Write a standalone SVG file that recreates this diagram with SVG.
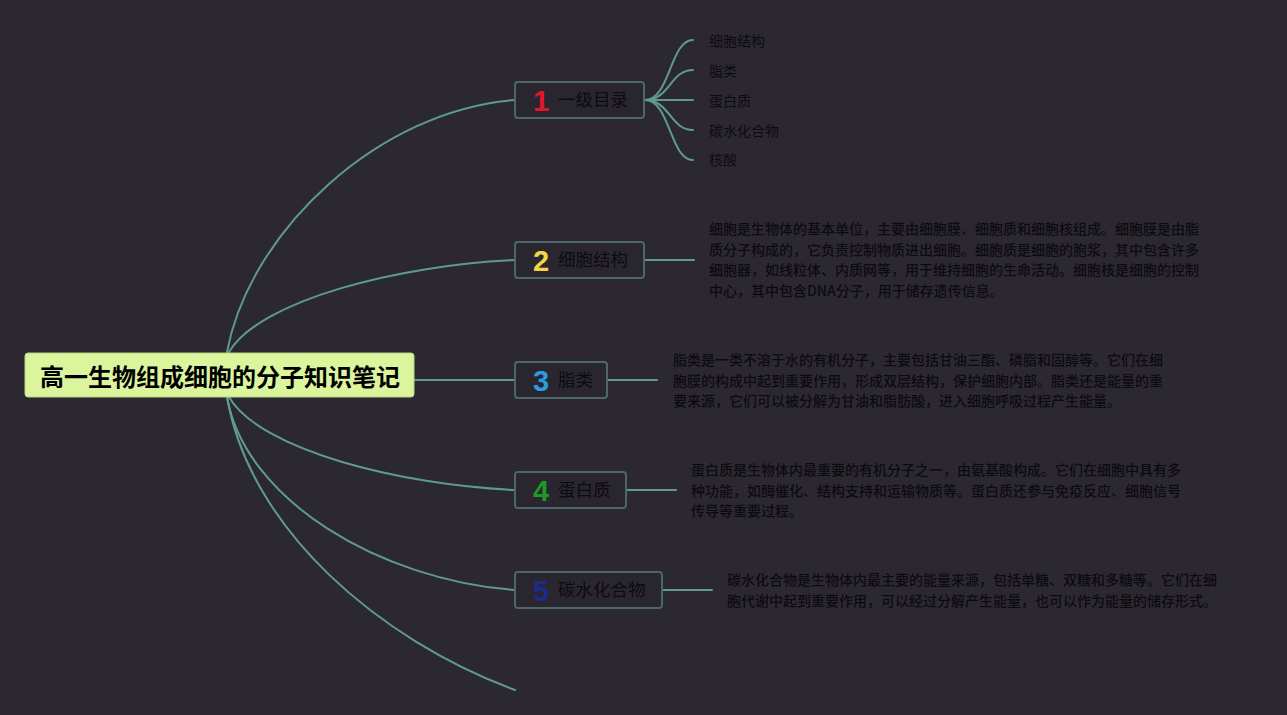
<svg xmlns="http://www.w3.org/2000/svg" width="1287" height="715" viewBox="0 0 1287 715">
<style>
.bg{fill:#2c2832}
.conn path,.conn line{fill:none;stroke:#5f9b8d;stroke-width:2;stroke-linecap:round}
.box{fill:#2a2630;stroke:#4b6769;stroke-width:2}
.num{font-family:"Liberation Sans",Arial,sans-serif;font-weight:bold;font-size:29px}
.lbl{font-family:"Noto Sans CJK SC",sans-serif;font-size:17.5px;fill:#0c0b0e}
.sub{font-family:"Noto Sans CJK SC",sans-serif;font-size:14px;fill:#0c0b0e}
.desc{font-family:"Noto Sans CJK SC",sans-serif;font-size:14px;fill:#0c0b0e;font-weight:500}
.root{fill:#dbf59d;stroke:#b7d37e;stroke-width:1}
.roott{font-family:"Noto Sans CJK SC",sans-serif;font-weight:bold;font-size:24px;fill:#000}
</style>
<rect class="bg" x="0" y="0" width="1287" height="715"/>
<g id="connectors" class="conn">
<path d="M227,352 C250,230 380,110 515,100"/>
<path d="M229,352 C260,300 400,265 515,260"/>
<line x1="414" y1="380" x2="515" y2="380"/>
<path d="M229,397 C260,450 400,485 515,490"/>
<path d="M227,397 C245,500 380,580 515,590"/>
<path d="M227,397 C250,530 380,640 515,690"/>
<path d="M645,100 C670,100 670,40 693,40"/>
<path d="M645,100 C670,100 670,70 693,70"/>
<path d="M645,100 L693,100"/>
<path d="M645,100 C670,100 670,130 693,130"/>
<path d="M645,100 C670,100 670,160 693,160"/>
<line x1="645" y1="260" x2="694" y2="260"/>
<line x1="608" y1="380" x2="657" y2="380"/>
<line x1="627" y1="490" x2="676" y2="490"/>
<line x1="663" y1="590" x2="712" y2="590"/>
</g>
<g id="root">
<rect class="root" x="25" y="353" width="389" height="44" rx="3"/>
<text class="roott" x="220" y="386" text-anchor="middle">高一生物组成细胞的分子知识笔记</text>
</g>
<g id="node1">
<rect class="box" x="515" y="82" width="129" height="36" rx="3"/>
<text class="num" x="533" y="111" fill="#e0162b">1</text>
<text class="lbl" x="558" y="106">一级目录</text>
</g>
<g id="node1-items">
<text class="sub" x="709" y="46">细胞结构</text>
<text class="sub" x="709" y="76">脂类</text>
<text class="sub" x="709" y="106">蛋白质</text>
<text class="sub" x="709" y="136">碳水化合物</text>
<text class="sub" x="709" y="165">核酸</text>
</g>
<g id="node2">
<rect class="box" x="515" y="242" width="129" height="36" rx="3"/>
<text class="num" x="533" y="271" fill="#f3d646">2</text>
<text class="lbl" x="558" y="266">细胞结构</text>
</g>
<g id="node2-desc">
<text class="desc" x="709" y="234">细胞是生物体的基本单位，主要由细胞膜、细胞质和细胞核组成。细胞膜是由脂</text>
<text class="desc" x="709" y="255">质分子构成的，它负责控制物质进出细胞。细胞质是细胞的胞浆，其中包含许多</text>
<text class="desc" x="709" y="275">细胞器，如线粒体、内质网等，用于维持细胞的生命活动。细胞核是细胞的控制</text>
<text class="desc" x="709" y="296">中心，其中包含DNA分子，用于储存遗传信息。</text>
</g>
<g id="node3">
<rect class="box" x="515" y="362" width="92" height="36" rx="3"/>
<text class="num" x="533" y="391" fill="#2a9de0">3</text>
<text class="lbl" x="558" y="386">脂类</text>
</g>
<g id="node3-desc">
<text class="desc" x="673" y="365">脂类是一类不溶于水的有机分子，主要包括甘油三酯、磷脂和固醇等。它们在细</text>
<text class="desc" x="673" y="386">胞膜的构成中起到重要作用，形成双层结构，保护细胞内部。脂类还是能量的重</text>
<text class="desc" x="673" y="406">要来源，它们可以被分解为甘油和脂肪酸，进入细胞呼吸过程产生能量。</text>
</g>
<g id="node4">
<rect class="box" x="515" y="472" width="111" height="36" rx="3"/>
<text class="num" x="533" y="501" fill="#1c9b24">4</text>
<text class="lbl" x="558" y="496">蛋白质</text>
</g>
<g id="node4-desc">
<text class="desc" x="691" y="475">蛋白质是生物体内最重要的有机分子之一，由氨基酸构成。它们在细胞中具有多</text>
<text class="desc" x="691" y="496">种功能，如酶催化、结构支持和运输物质等。蛋白质还参与免疫反应、细胞信号</text>
<text class="desc" x="691" y="516">传导等重要过程。</text>
</g>
<g id="node5">
<rect class="box" x="515" y="572" width="147" height="36" rx="3"/>
<text class="num" x="533" y="601" fill="#1c2a8e">5</text>
<text class="lbl" x="558" y="596">碳水化合物</text>
</g>
<g id="node5-desc">
<text class="desc" x="727" y="585">碳水化合物是生物体内最主要的能量来源，包括单糖、双糖和多糖等。它们在细</text>
<text class="desc" x="727" y="606">胞代谢中起到重要作用，可以经过分解产生能量，也可以作为能量的储存形式。</text>
</g>
</svg>
